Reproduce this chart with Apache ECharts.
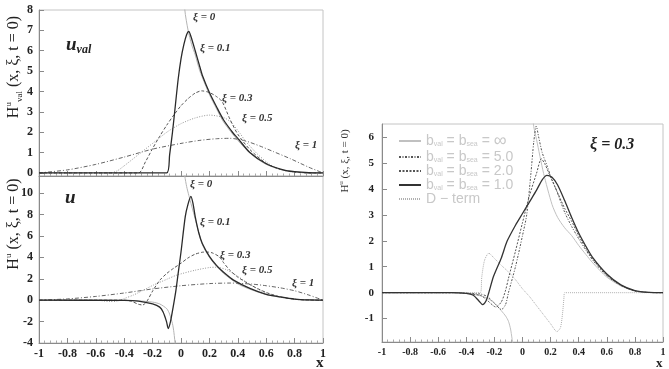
<!DOCTYPE html>
<html>
<head>
<meta charset="utf-8">
<script src="https://cdn.jsdelivr.net/npm/echarts@6/dist/echarts.min.js"></script>
<style>
  html, body { margin: 0; padding: 0; background: #fff; }
  #main { width: 669px; height: 369px; }
</style>
</head>
<body>
<div id="main"></div>
<script>
// 上图: u_val, 各 xi
const uvalXi0 = [[0.02, 9.5], [0.027, 8.0], [0.05, 7.0], [0.075, 6.3], [0.1, 5.8], [0.133, 5.0], [0.2, 3.85], [0.25, 3.15], [0.3, 2.5], [0.4, 1.6], [0.5, 0.88], [0.6, 0.42], [0.7, 0.17], [0.8, 0.05], [0.9, 0.01], [1, 0]];
const uvalXi01 = [[-1, 0], [-0.1, 0], [-0.08, 0.9], [-0.06, 2.0], [-0.04, 3.3], [-0.02, 4.6], [0, 5.6], [0.02, 6.3], [0.04, 6.8], [0.055, 6.95], [0.07, 6.7], [0.1, 6.0], [0.133, 5.2], [0.15, 4.8], [0.2, 3.95], [0.25, 3.25], [0.3, 2.6], [0.368, 1.95], [0.4, 1.7], [0.485, 1.0], [0.6, 0.45], [0.72, 0.15], [0.8, 0.06], [0.9, 0.01], [1, 0]];
const uvalXi03 = [[-1, 0], [-0.3, 0], [-0.25, 0.55], [-0.2, 1.2], [-0.15, 1.8], [-0.1, 2.35], [-0.05, 2.85], [0, 3.3], [0.05, 3.65], [0.1, 3.92], [0.145, 4.03], [0.2, 3.95], [0.25, 3.75], [0.29, 3.5], [0.344, 2.65], [0.4, 1.9], [0.485, 1.15], [0.6, 0.47], [0.7, 0.17], [0.8, 0.04], [0.9, 0], [1, 0]];
const uvalXi05 = [[-1, 0], [-0.5, 0], [-0.45, 0.1], [-0.4, 0.35], [-0.3, 0.9], [-0.2, 1.45], [-0.1, 2.0], [0, 2.42], [0.1, 2.7], [0.2, 2.84], [0.3, 2.72], [0.35, 2.5], [0.415, 1.95], [0.45, 1.6], [0.532, 0.97], [0.6, 0.55], [0.65, 0.31], [0.7, 0.17], [0.77, 0.06], [0.85, 0.01], [1, 0]];
const uvalXi1 = [[-1, 0], [-0.8, 0.15], [-0.6, 0.42], [-0.4, 0.78], [-0.2, 1.17], [0, 1.45], [0.133, 1.6], [0.25, 1.68], [0.344, 1.7], [0.45, 1.58], [0.556, 1.32], [0.65, 1.05], [0.77, 0.7], [0.9, 0.28], [1, 0]];

// 下图: u, 各 xi
const uXi0Neg = [[-1, 0], [-0.4, -0.02], [-0.3, -0.06], [-0.2, -0.18], [-0.15, -0.35], [-0.1, -0.8], [-0.08, -1.3], [-0.06, -2.2], [-0.05, -3.0], [-0.04, -4.3], [-0.035, -5.5]];
const uXi0Pos = [[0.02, 13.5], [0.027, 11.6], [0.04, 10.6], [0.055, 9.8], [0.075, 8.8], [0.1, 7.6], [0.15, 5.2], [0.2, 4.0], [0.25, 3.15], [0.3, 2.5], [0.4, 1.52], [0.5, 0.95], [0.6, 0.52], [0.7, 0.27], [0.8, 0.09], [0.9, 0.02], [1, 0]];
const uXi01 = [[-1, 0], [-0.4, -0.02], [-0.3, -0.08], [-0.2, -0.35], [-0.15, -0.65], [-0.126, -1.1], [-0.102, -2.0], [-0.09, -2.65], [-0.074, -2.0], [-0.055, -0.62], [-0.036, 0.9], [-0.02, 2.5], [0, 4.5], [0.03, 7.8], [0.05, 9.0], [0.07, 9.7], [0.085, 9.0], [0.1, 7.8], [0.125, 6.3], [0.15, 5.3], [0.2, 4.1], [0.25, 3.25], [0.3, 2.6], [0.37, 1.87], [0.485, 1.1], [0.6, 0.55], [0.7, 0.3], [0.8, 0.1], [0.9, 0.02], [1, 0]];
const uXi03 = [[-1, 0], [-0.4, 0], [-0.35, -0.1], [-0.3, -0.38], [-0.27, -0.45], [-0.24, -0.1], [-0.2, 0.85], [-0.15, 1.85], [-0.1, 2.5], [-0.05, 3.0], [0, 3.45], [0.05, 3.95], [0.1, 4.3], [0.15, 4.48], [0.18, 4.5], [0.22, 4.42], [0.27, 4.05], [0.3, 3.5], [0.344, 2.8], [0.4, 2.15], [0.5, 1.35], [0.6, 0.72], [0.7, 0.3], [0.8, 0.08], [0.9, 0.01], [1, 0]];
const uXi05 = [[-1, 0], [-0.6, 0], [-0.5, -0.12], [-0.45, -0.1], [-0.4, 0.15], [-0.337, 0.47], [-0.3, 0.7], [-0.196, 1.4], [-0.1, 1.95], [-0.03, 2.34], [0.1, 2.8], [0.2, 3.05], [0.25, 3.08], [0.32, 2.85], [0.38, 2.4], [0.44, 1.87], [0.5, 1.35], [0.556, 0.93], [0.6, 0.68], [0.7, 0.3], [0.8, 0.1], [0.9, 0.02], [1, 0]];
const uXi1 = [[-1, 0], [-0.8, 0.12], [-0.6, 0.35], [-0.4, 0.67], [-0.2, 1.05], [0, 1.35], [0.2, 1.55], [0.35, 1.6], [0.5, 1.5], [0.6, 1.35], [0.7, 1.15], [0.8, 0.88], [0.9, 0.48], [1, 0]];

// 右图: xi = 0.3, 各 b
const bInfNeg = [[-1, 0], [-0.5, 0], [-0.4, -0.03], [-0.3, -0.12], [-0.25, -0.22], [-0.2, -0.4], [-0.15, -0.7], [-0.12, -0.9], [-0.1, -1.1], [-0.085, -1.4], [-0.075, -1.75], [-0.068, -2.0], [-0.063, -2.3]];
const bInfPos = [[0.07, 6.9], [0.08, 6.4], [0.1, 5.9], [0.15, 4.6], [0.21, 3.4], [0.25, 2.9], [0.3, 2.5], [0.35, 2.2], [0.4, 1.82], [0.45, 1.48], [0.5, 1.15], [0.6, 0.6], [0.7, 0.26], [0.8, 0.06], [0.9, 0.01], [1, 0]];
const b5 = [[-1, 0], [-0.5, 0], [-0.3, -0.05], [-0.25, -0.15], [-0.2, -0.4], [-0.15, -0.65], [-0.12, -0.45], [-0.1, 0], [-0.05, 1.0], [0, 2.2], [0.03, 3.0], [0.06, 4.6], [0.08, 5.8], [0.098, 6.42], [0.115, 6.0], [0.14, 5.4], [0.174, 4.9], [0.2, 4.5], [0.245, 3.9], [0.3, 3.1], [0.35, 2.55], [0.4, 2.08], [0.45, 1.65], [0.5, 1.25], [0.6, 0.65], [0.7, 0.28], [0.8, 0.07], [0.9, 0.01], [1, 0]];
const b2 = [[-1, 0], [-0.5, 0], [-0.3, -0.1], [-0.25, -0.3], [-0.19, -0.55], [-0.15, -0.35], [-0.12, 0.1], [-0.1, 0.55], [-0.05, 1.6], [0, 2.7], [0.05, 3.75], [0.1, 4.6], [0.134, 5.16], [0.16, 4.95], [0.2, 4.45], [0.25, 3.85], [0.3, 3.25], [0.35, 2.75], [0.4, 2.2], [0.45, 1.72], [0.5, 1.3], [0.6, 0.68], [0.7, 0.29], [0.8, 0.07], [0.9, 0.01], [1, 0]];
const b1 = [[-1, 0], [-0.5, 0], [-0.4, -0.03], [-0.35, -0.1], [-0.31, -0.32], [-0.284, -0.46], [-0.26, -0.32], [-0.24, 0.0], [-0.206, 0.63], [-0.15, 1.35], [-0.11, 1.98], [-0.05, 2.6], [0, 3.05], [0.05, 3.5], [0.1, 3.95], [0.14, 4.35], [0.174, 4.52], [0.21, 4.45], [0.25, 4.15], [0.3, 3.55], [0.35, 2.9], [0.4, 2.3], [0.45, 1.8], [0.5, 1.35], [0.6, 0.72], [0.7, 0.3], [0.8, 0.08], [0.9, 0.01], [1, 0]];
const dTerm = [[-1, 0], [-0.3, 0], [-0.29, 0.6], [-0.27, 1.25], [-0.24, 1.52], [-0.2, 1.32], [-0.15, 1.05], [-0.1, 0.8], [-0.05, 0.5], [0, 0.15], [0.05, -0.15], [0.1, -0.5], [0.15, -0.85], [0.2, -1.2], [0.245, -1.5], [0.27, -1.35], [0.285, -0.8], [0.295, -0.2], [0.3, 0], [1, 0]];

const yTicksUval = [0, 1, 2, 3, 4, 5, 6, 7, 8];
const yTicksU = [-4, -2, 0, 2, 4, 6, 8, 10];
const yTicksRight = [-1, 0, 1, 2, 3, 4, 5, 6];
const xiLabels = ['ξ = 0', 'ξ = 0.1', 'ξ = 0.3', 'ξ = 0.5', 'ξ = 1'];
const bNames = ['b∞', 'b5', 'b2', 'b1', 'D'];

const serif = "'Liberation Serif', 'DejaVu Serif', serif";
const sans = "'Liberation Sans', 'DejaVu Sans', sans-serif";
const frame = '#c4c4c4';
const axisCol = '#8a8a8a';

const chart = echarts.init(document.getElementById('main'));

function makeX(gridIndex, showLabel, fontSize) {
  return {
    type: 'value', gridIndex, min: -1, max: 1, interval: 0.2,
    axisLine: { show: true, onZero: false, lineStyle: { color: axisCol, width: 1 } },
    axisTick: { show: true, inside: true, length: 5, lineStyle: { color: axisCol } },
    minorTick: { show: true, splitNumber: 5, length: 2.5, lineStyle: { color: '#aaa' } },
    splitLine: { show: false },
    axisLabel: {
      show: showLabel, margin: 5, color: '#222',
      fontFamily: serif, fontSize: fontSize, fontWeight: 'bold'
    }
  };
}

function makeY(gridIndex, min, max, ticks, fontSize, margin) {
  return {
    type: 'value', gridIndex, min, max,
    axisLine: { show: true, onZero: false, lineStyle: { color: axisCol, width: 1 } },
    axisTick: { show: true, inside: true, length: 5, customValues: ticks, lineStyle: { color: axisCol } },
    splitLine: { show: false },
    axisLabel: {
      customValues: ticks, margin: margin, color: '#222',
      fontFamily: serif, fontSize: fontSize, fontWeight: 'bold'
    }
  };
}

function line(name, data, xi, style, z) {
  return {
    name, type: 'line', data, xAxisIndex: xi, yAxisIndex: xi,
    symbol: 'none', smooth: 0.25, clip: true, z: z || 2,
    lineStyle: style, itemStyle: { color: style.color },
    emphasis: { disabled: true }
  };
}

const sXi0 = { color: '#b4b4b4', width: 1, type: 'solid' };
const sXi01 = { color: '#2a2a2a', width: 1.3, type: 'solid' };
const sXi03 = { color: '#555', width: 1, type: [3, 2] };
const sXi05 = { color: '#999', width: 1, type: [1, 1.5] };
const sXi1 = { color: '#666', width: 1, type: [4, 2, 1, 2] };

const sInf = { color: '#c0c0c0', width: 1, type: 'solid' };
const s5 = { color: '#555', width: 1, type: [2, 1.5, 1, 1.5] };
const s2 = { color: '#555', width: 1, type: [2, 1.5] };
const s1 = { color: '#333', width: 1.3, type: 'solid' };
const sD = { color: '#b0b0b0', width: 1, type: [1, 1] };

const legendText = {
  'b∞': '{m|b}{s|val}{m| = b}{s|sea}{m| = }{i|∞}',
  'b5': '{m|b}{s|val}{m| = b}{s|sea}{m| = 5.0}',
  'b2': '{m|b}{s|val}{m| = b}{s|sea}{m| = 2.0}',
  'b1': '{m|b}{s|val}{m| = b}{s|sea}{m| = 1.0}',
  'D': '{m|D − term}'
};

const curveLabel = (x, y, text) => ({
  type: 'text', x, y,
  style: { text, font: "italic bold 11px 'Liberation Serif'", fill: '#333', textVerticalAlign: 'middle' }
});

const option = {
  animation: false,
  backgroundColor: '#fff',
  grid: [
    { left: 39, top: 10, width: 284, height: 166, show: true, borderColor: frame, containLabel: false, outerBoundsMode: 'none' },
    { left: 39, top: 176, width: 284, height: 167, show: true, borderColor: frame, containLabel: false, outerBoundsMode: 'none' },
    { left: 382, top: 124, width: 281, height: 218, show: true, borderColor: frame, containLabel: false, outerBoundsMode: 'none' }
  ],
  xAxis: [makeX(0, false, 12), makeX(1, true, 12), makeX(2, true, 10)],
  yAxis: [
    makeY(0, -0.15, 8, yTicksUval, 12, 6),
    makeY(1, -4, 11.6, yTicksU, 12, 6),
    makeY(2, -1.9, 6.5, yTicksRight, 11, 8)
  ],
  legend: {
    show: true, orient: 'vertical', left: 393, top: 127,
    data: bNames, itemWidth: 22, itemHeight: 8, itemGap: 0,
    itemStyle: { opacity: 0 },
    selectedMode: false,
    formatter: name => legendText[name],
    textStyle: {
      color: '#c8c8c8', fontFamily: sans, fontSize: 14,
      rich: {
        m: { fontSize: 14, color: '#c8c8c8', fontFamily: sans, lineHeight: 13 },
        i: { fontSize: 18, color: '#c8c8c8', fontFamily: sans, lineHeight: 13 },
        s: { fontSize: 7, color: '#c8c8c8', fontFamily: sans, verticalAlign: 'bottom', lineHeight: 13 }
      }
    }
  },
  series: [
    line('uv0', uvalXi0, 0, sXi0),
    line('uv1', uvalXi1, 0, sXi1),
    line('uv05', uvalXi05, 0, sXi05),
    line('uv03', uvalXi03, 0, sXi03),
    line('uv01', uvalXi01, 0, sXi01, 3),

    line('u0a', uXi0Neg, 1, sXi0),
    line('u0b', uXi0Pos, 1, sXi0),
    line('u1', uXi1, 1, sXi1),
    line('u05', uXi05, 1, sXi05),
    line('u03', uXi03, 1, sXi03),
    line('u01', uXi01, 1, sXi01, 3),

    line('b∞', bInfNeg, 2, sInf),
    line('b∞', bInfPos, 2, sInf),
    line('b5', b5, 2, s5),
    line('b2', b2, 2, s2),
    line('b1', b1, 2, s1, 3),
    line('D', dTerm, 2, sD)
  ],
  graphic: [
    {
      type: 'text', x: 14, y: 67, rotation: Math.PI / 2,
      style: {
        text: '{a|H}{p|u}{b|val}{a| (x, ξ, t = 0)}',
        textAlign: 'center', textVerticalAlign: 'middle',
        rich: {
          a: { fontSize: 16, fontFamily: serif, fill: '#222', lineHeight: 20 },
          p: { fontSize: 9, fontFamily: serif, fill: '#222', verticalAlign: 'top', lineHeight: 20 },
          b: { fontSize: 9, fontFamily: serif, fill: '#222', verticalAlign: 'bottom', lineHeight: 20 }
        }
      }
    },
    {
      type: 'text', x: 14, y: 224, rotation: Math.PI / 2,
      style: {
        text: '{a|H}{p|u}{a| (x, ξ, t = 0)}',
        textAlign: 'center', textVerticalAlign: 'middle',
        rich: {
          a: { fontSize: 16, fontFamily: serif, fill: '#222', lineHeight: 20 },
          p: { fontSize: 9, fontFamily: serif, fill: '#222', verticalAlign: 'top', lineHeight: 20 }
        }
      }
    },
    {
      type: 'text', x: 345, y: 161, rotation: Math.PI / 2,
      style: {
        text: '{a|H}{p|u}{a| (x, ξ, t = 0)}',
        textAlign: 'center', textVerticalAlign: 'middle',
        rich: {
          a: { fontSize: 11, fontFamily: serif, fill: '#333', lineHeight: 14 },
          p: { fontSize: 7, fontFamily: serif, fill: '#333', verticalAlign: 'top', lineHeight: 14 }
        }
      }
    },
    {
      type: 'text', x: 66, y: 45,
      style: {
        text: '{u|u}{v|val}', textVerticalAlign: 'middle',
        rich: {
          u: { font: "italic bold 19px 'Liberation Serif'", fill: '#222', lineHeight: 22 },
          v: { font: "italic bold 12px 'Liberation Serif'", fill: '#222', verticalAlign: 'bottom', lineHeight: 22 }
        }
      }
    },
    {
      type: 'text', x: 65, y: 198,
      style: { text: 'u', font: "italic bold 19px 'Liberation Serif'", fill: '#222', textVerticalAlign: 'middle' }
    },
    {
      type: 'text', x: 590, y: 145,
      style: { text: 'ξ = 0.3', font: "italic bold 16px 'Liberation Serif'", fill: '#222', textVerticalAlign: 'middle' }
    },
    {
      type: 'text', x: 316, y: 363,
      style: { text: 'x', font: "bold 15px 'Liberation Serif'", fill: '#222', textVerticalAlign: 'middle' }
    },
    {
      type: 'text', x: 656, y: 364,
      style: { text: 'x', font: "bold 13px 'Liberation Serif'", fill: '#222', textVerticalAlign: 'middle' }
    },
    curveLabel(193, 17, xiLabels[0]),
    curveLabel(200, 48, xiLabels[1]),
    curveLabel(222, 98, xiLabels[2]),
    curveLabel(242, 118, xiLabels[3]),
    curveLabel(295, 145, xiLabels[4]),
    curveLabel(190, 184, xiLabels[0]),
    curveLabel(200, 222, xiLabels[1]),
    curveLabel(220, 255, xiLabels[2]),
    curveLabel(242, 270, xiLabels[3]),
    curveLabel(292, 283, xiLabels[4])
  ]
};

chart.setOption(option);
</script>
</body>
</html>
